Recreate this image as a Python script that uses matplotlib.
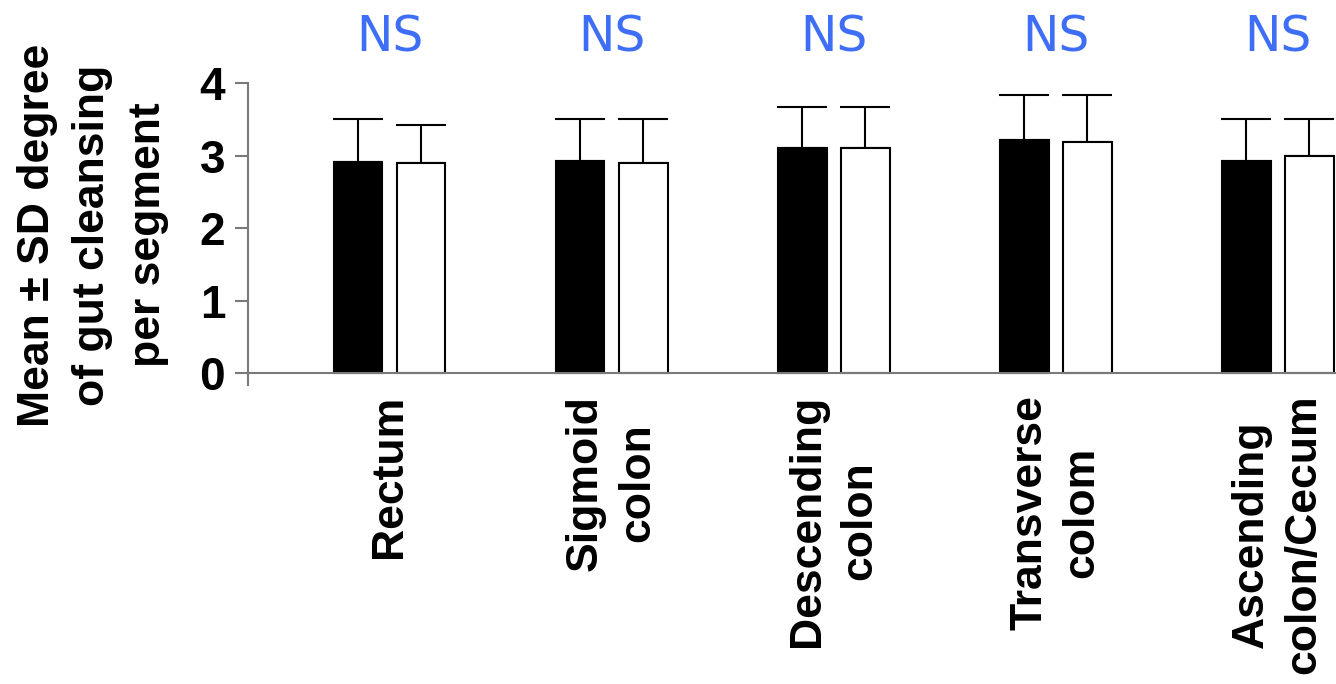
import matplotlib
matplotlib.use("Agg")
import matplotlib.pyplot as plt
import numpy as np

plt.rcParams["font.family"] = ["Liberation Sans", "DejaVu Sans"]
plt.rcParams["font.weight"] = "bold"

# Gut cleansing score per colon segment, two groups (mean and SD)
segments = ["Rectum", "Sigmoid\ncolon", "Descending\ncolon", "Transverse\ncolom", "Ascending\ncolon/Cecum"]
group_a_mean = [2.91, 2.92, 3.11, 3.21, 2.92]
group_a_sd = [0.59, 0.58, 0.56, 0.62, 0.58]
group_b_mean = [2.90, 2.90, 3.10, 3.19, 2.99]
group_b_sd = [0.52, 0.60, 0.57, 0.64, 0.51]
sig_labels = ["NS", "NS", "NS", "NS", "NS"]

fig = plt.figure(figsize=(13.36, 6.84), dpi=100)
ax = fig.add_axes([248 / 1336, (684 - 385) / 684, (1336 - 248) / 1336, (385 - 83) / 684])

x = np.arange(len(segments))
width = 0.22
off = 0.142
zeros = [0] * len(segments)

ax.bar(x - off, group_a_mean, width, color="black", edgecolor="black", linewidth=1.5, zorder=3)
ax.bar(x + off, group_b_mean, width, color="white", edgecolor="black", linewidth=1.5, zorder=3)
ax.errorbar(x - off, group_a_mean, yerr=[zeros, group_a_sd], fmt="none", ecolor="black",
            elinewidth=1.5, capsize=18, capthick=1.5, zorder=2)
ax.errorbar(x + off, group_b_mean, yerr=[zeros, group_b_sd], fmt="none", ecolor="black",
            elinewidth=1.5, capsize=18, capthick=1.5, zorder=2)

# significance marks above each segment
for xi, lab in zip(x, sig_labels):
    ax.text(xi, 4.44, lab, ha="center", va="baseline", color="#3d6ef5",
            fontsize=35, fontweight="normal", family="DejaVu Sans", clip_on=False)

ax.axhline(0, color="#7a7a7a", lw=1.5, zorder=4, clip_on=False)
ax.set_xlim(-0.637, 4.262)
ax.set_ylim(-0.16, 4)
ax.set_yticks([0, 1, 2, 3, 4])
ax.set_xticks(x)
ax.set_xticklabels(segments, rotation=90, fontsize=32, fontweight="bold",
                   multialignment="center", linespacing=1.35)
ax.tick_params(axis="y", labelsize=33, length=9.4, width=1.5, color="#7a7a7a", pad=7)
ax.tick_params(axis="x", length=0, pad=7)
for t in ax.get_yticklabels():
    t.set_fontweight("bold")

for s in ["top", "right", "bottom"]:
    ax.spines[s].set_visible(False)
ax.spines["left"].set_color("#7a7a7a")
ax.spines["left"].set_linewidth(1.5)

fig.text(93 / 1336, 1 - 235 / 684, "Mean \u00b1 SD degree\nof gut cleansing\nper segment",
         rotation=90, ha="center", va="center", multialignment="center",
         fontsize=32, fontweight="bold", linespacing=1.45)

fig.savefig("out.png", dpi=100)
